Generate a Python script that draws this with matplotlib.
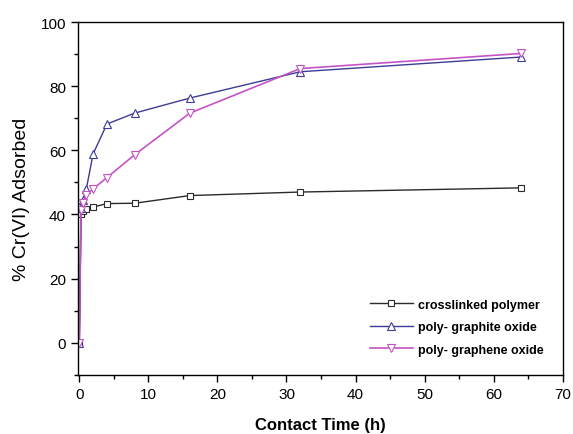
import matplotlib.pyplot as plt
from matplotlib.ticker import MultipleLocator

plt.rcParams['font.family'] = ['Liberation Sans', 'DejaVu Sans']

# contact time (h)
time_h = [0, 0.25, 0.5, 1, 2, 4, 8, 16, 32, 64]
# % Cr(VI) adsorbed
crosslinked = [0, 40.2, 41.0, 41.8, 42.3, 43.4, 43.5, 45.9, 47.0, 48.3]
graphite_ox = [0, 42.0, 44.5, 47.8, 58.9, 68.2, 71.6, 76.3, 84.5, 89.1]
graphene_ox = [0, 41.5, 43.5, 46.0, 48.0, 51.5, 58.6, 71.6, 85.5, 90.2]
labels = ["crosslinked polymer", "poly- graphite oxide", "poly- graphene oxide"]

fig = plt.figure(figsize=(5.73, 4.35), dpi=100)
ax = fig.add_axes([0.136, 0.136, 0.846, 0.811])

ax.plot(time_h, crosslinked, color="#2b2b2b", lw=1, marker="s", ms=5,
        mfc="white", mec="#2b2b2b", mew=0.8, label=labels[0])
ax.plot(time_h, graphite_ox, color="#3c3c96", lw=1, marker="^", ms=6,
        mfc="white", mec="#3c3c96", mew=0.8, label=labels[1])
ax.plot(time_h, graphene_ox, color="#c653c6", lw=1.2, marker="v", ms=6,
        mfc="white", mec="#c653c6", mew=0.8, label=labels[2])

ax.set_xlim(-0.2, 70)
ax.set_ylim(-10, 100)
ax.xaxis.set_major_locator(MultipleLocator(10))
ax.xaxis.set_minor_locator(MultipleLocator(5))
ax.yaxis.set_major_locator(MultipleLocator(20))
ax.yaxis.set_minor_locator(MultipleLocator(10))
ax.tick_params(which="major", direction="out", length=5, width=1, labelsize=11)
ax.tick_params(which="minor", direction="out", length=3, width=1)
for s in ax.spines.values():
    s.set_linewidth(1)

ax.set_xlabel("Contact Time (h)", fontsize=12, fontweight="bold", labelpad=12)
ax.set_ylabel("% Cr(VI) Adsorbed", fontsize=14, labelpad=8)

ax.legend(loc="lower right", frameon=False, prop={"size": 9, "weight": "bold"},
          handlelength=3.4, handletextpad=0.4, labelspacing=0.85,
          bbox_to_anchor=(0.983, 0.022))

fig.savefig("out.png", dpi=100)
